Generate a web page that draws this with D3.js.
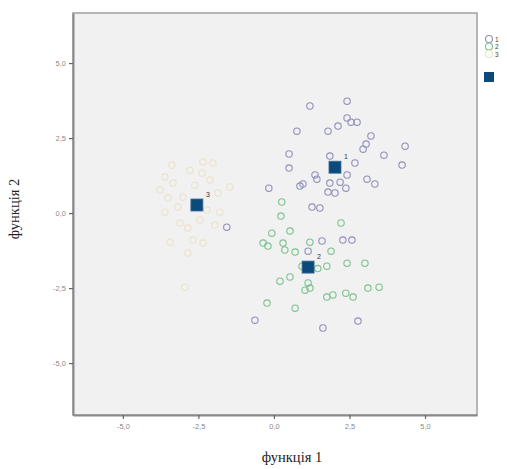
<!DOCTYPE html>
<html>
<head>
<meta charset="utf-8">
<script src="https://cdn.jsdelivr.net/npm/d3@7"></script>
<style>
  body { margin: 0; background: #fff; }
  svg { display: block; }
</style>
</head>
<body>
<script>
// discriminant scores (function 1, function 2)
var group1 = [
  [1.19, 3.57], [2.42, 3.73], [2.42, 3.17], [2.55, 3.03], [2.75, 3.03], [2.12, 2.9],
  [1.79, 2.73], [0.76, 2.73], [3.21, 2.57], [3.05, 2.3], [2.95, 2.13], [4.34, 2.23],
  [3.64, 1.93], [4.24, 1.6], [0.5, 1.97], [1.85, 1.9], [2.68, 1.67], [0.5, 1.5],
  [2.42, 1.27], [1.36, 1.27], [1.42, 1.13], [3.08, 1.13], [3.34, 0.97], [0.96, 0.97],
  [0.86, 0.9], [1.85, 1.0], [2.19, 1.03], [2.38, 0.83], [1.79, 0.7], [2.02, 0.67],
  [-0.17, 0.83], [1.26, 0.2], [1.52, 0.17], [2.28, -0.9], [2.58, -0.9], [1.59, -0.93],
  [1.13, -1.27], [-0.63, -3.57], [1.62, -3.83], [2.78, -3.6], [-1.56, -0.47]
];
var group2 = [
  [0.26, 0.37], [0.23, -0.1], [2.22, -0.33], [-0.07, -0.67], [0.53, -0.6], [-0.36, -1.0],
  [-0.2, -1.1], [0.3, -1.0], [1.19, -0.97], [0.36, -1.23], [0.7, -1.3], [1.89, -1.27],
  [1.75, -1.77], [0.93, -1.77], [2.42, -1.67], [3.01, -1.67], [0.2, -2.27], [0.53, -2.13],
  [1.13, -2.33], [1.19, -2.5], [1.03, -2.57], [1.75, -2.8], [1.95, -2.73], [2.38, -2.67],
  [2.62, -2.8], [3.11, -2.5], [3.48, -2.47], [-0.23, -3.0], [0.7, -3.17], [1.45, -1.85]
];
var group3 = [
  [-3.38, 1.6], [-2.35, 1.7], [-2.02, 1.67], [-3.61, 1.2], [-3.34, 1.0], [-2.38, 1.33],
  [-2.12, 1.1], [-1.46, 0.87], [-3.51, 0.5], [-3.01, 0.53], [-1.85, 0.67], [-2.22, 0.1],
  [-1.79, 0.03], [-3.61, 0.03], [-3.11, -0.33], [-2.85, -0.5], [-2.45, -0.23],
  [-3.44, -0.97], [-2.68, -0.9], [-2.35, -1.0], [-2.85, -1.33], [-2.95, -2.47],
  [-3.77, 0.77], [-2.62, 0.93], [-1.95, -0.4], [-3.18, 0.2], [-2.78, 1.43]
];
var centroids = [
  {label: "1", x: 2.02, y: 1.53},
  {label: "2", x: 1.13, y: -1.8},
  {label: "3", x: -2.55, y: 0.27}
];
var groupNames = ["1", "2", "3"];
var tickVals = [-5, -2.5, 0, 2.5, 5];

var W = 507, H = 469;
var colors = ["#9090bd", "#7cc290", "#ebe2c9"];

var svg = d3.select("body").append("svg")
  .attr("width", W)
  .attr("height", H);

var x = d3.scaleLinear().domain([-6.65, 6.72]).range([73, 477]);
var y = d3.scaleLinear().domain([-6.73, 6.67]).range([415, 13]);

// plot area
svg.append("rect")
  .attr("x", x.range()[0]).attr("y", y.range()[1])
  .attr("width", x.range()[1] - x.range()[0])
  .attr("height", y.range()[0] - y.range()[1])
  .attr("fill", "#f1f1f1")
  .attr("stroke", "#a0a0a0")
  .attr("stroke-width", 1.5);

var fmt = function(d) { return d3.format(".1f")(d).replace(".", ",").replace("\u2212", "-"); };

var xAxis = d3.axisBottom(x).tickValues(tickVals).tickFormat(fmt).tickSize(4).tickSizeOuter(0);
var yAxis = d3.axisLeft(y).tickValues(tickVals).tickFormat(fmt).tickSize(4).tickSizeOuter(0);

var gx = svg.append("g")
  .attr("transform", "translate(0," + y.range()[0] + ")")
  .call(xAxis);
var gy = svg.append("g")
  .attr("transform", "translate(" + x.range()[0] + ",0)")
  .call(yAxis);

[gx, gy].forEach(function(g) {
  g.select(".domain").attr("stroke", "#8a8a8a").attr("stroke-width", 2);
  g.selectAll(".tick line").attr("stroke", "#666").attr("stroke-width", 1.2);
  g.selectAll(".tick text")
    .attr("fill", "#8a8a8a")
    .style("font-family", "Arial, 'Liberation Sans', sans-serif")
    .style("font-size", "7.5px");
});
gx.selectAll(".tick text").attr("dy", "0.9em");

// points
var groups = [group1, group2, group3];
groups.slice().reverse().forEach(function(pts, ri) {
  var gi = groups.length - 1 - ri;
  svg.append("g").selectAll("circle")
    .data(pts)
    .enter()
    .append("circle")
    .attr("cx", function(d) { return x(d[0]); })
    .attr("cy", function(d) { return y(d[1]); })
    .attr("r", 3.2)
    .attr("fill", "none")
    .attr("stroke", colors[gi])
    .attr("stroke-width", 1.1);
});

// group centroids
svg.append("g").selectAll("rect")
  .data(centroids)
  .enter()
  .append("rect")
  .attr("x", function(d) { return x(d.x) - 6; })
  .attr("y", function(d) { return y(d.y) - 6; })
  .attr("width", 12)
  .attr("height", 12)
  .attr("fill", "#0d4a7c")
  .attr("stroke", "#3a6f9a")
  .attr("stroke-width", 0.8);

svg.append("g").selectAll("text")
  .data(centroids)
  .enter()
  .append("text")
  .attr("x", function(d) { return x(d.x) + 9; })
  .attr("y", function(d) { return y(d.y) - 8; })
  .attr("font-size", 7)
  .attr("font-family", "Arial, sans-serif")
  .attr("fill", "#333")
  .text(function(d) { return d.label; });

// legend
var leg = svg.append("g");
groupNames.forEach(function(name, i) {
  var ly = 39 + i * 7.5;
  leg.append("circle")
    .attr("cx", 489).attr("cy", ly).attr("r", 3.5)
    .attr("fill", "none")
    .attr("stroke", colors[i])
    .attr("stroke-width", 1.1);
  leg.append("text")
    .attr("x", 495).attr("y", ly + 2.5)
    .attr("font-size", 6.5)
    .attr("font-family", "Arial, sans-serif")
    .attr("fill", "#444")
    .text(name);
});
leg.append("rect")
  .attr("x", 484).attr("y", 72)
  .attr("width", 10).attr("height", 10)
  .attr("fill", "#0d4a7c");

// axis titles
svg.append("text")
  .attr("x", 292).attr("y", 462)
  .attr("text-anchor", "middle")
  .attr("font-family", "'Liberation Serif', 'DejaVu Serif', serif")
  .attr("font-size", 14.5)
  .attr("font-weight", "normal")
  .attr("fill", "#222")
  .text("функція 1");

svg.append("text")
  .attr("transform", "translate(19,209) rotate(-90)")
  .attr("text-anchor", "middle")
  .attr("font-family", "'Liberation Serif', 'DejaVu Serif', serif")
  .attr("font-size", 14.5)
  .attr("font-weight", "normal")
  .attr("fill", "#222")
  .text("функція 2");
</script>
</body>
</html>
